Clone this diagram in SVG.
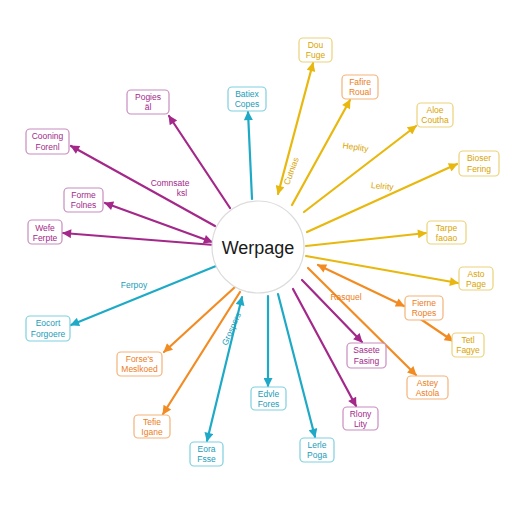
<svg xmlns="http://www.w3.org/2000/svg" width="512" height="512" viewBox="0 0 512 512">
<style>
.bg{fill:#fff}
.e{fill:none;stroke-width:2.2;stroke-linecap:round}
.m{stroke:#a3288a}.c{stroke:#1eaac6}.y{stroke:#e8b80e}.o{stroke:#f28c22}
.box{fill:#fff;stroke-width:1.2}
.bm{stroke:#c98cc0}.bc{stroke:#7fd0e0}.by{stroke:#ecd27a}.bo{stroke:#f4b27a}
text{font-family:"Liberation Sans","DejaVu Sans",sans-serif;text-anchor:middle}
.t{font-size:8.5px}
.tm{fill:#a3288a}.tc{fill:#1a9cb8}.ty{fill:#d9a400}.to{fill:#ec7d1a}
.lbl{font-size:8.5px}
</style>
<defs>
<marker id="am" viewBox="0 0 10 10" refX="9" refY="5" markerWidth="10" markerHeight="9" markerUnits="userSpaceOnUse" orient="auto-start-reverse"><path d="M0,0 L10,5 L0,10 z" fill="#a3288a"/></marker>
<marker id="ac" viewBox="0 0 10 10" refX="9" refY="5" markerWidth="10" markerHeight="9" markerUnits="userSpaceOnUse" orient="auto-start-reverse"><path d="M0,0 L10,5 L0,10 z" fill="#1eaac6"/></marker>
<marker id="ay" viewBox="0 0 10 10" refX="9" refY="5" markerWidth="10" markerHeight="9" markerUnits="userSpaceOnUse" orient="auto-start-reverse"><path d="M0,0 L10,5 L0,10 z" fill="#e8b80e"/></marker>
<marker id="ao" viewBox="0 0 10 10" refX="9" refY="5" markerWidth="10" markerHeight="9" markerUnits="userSpaceOnUse" orient="auto-start-reverse"><path d="M0,0 L10,5 L0,10 z" fill="#f28c22"/></marker>
</defs>
<rect class="bg" width="512" height="512"/>
<g id="connectors">
<line class="e m" x1="230" y1="208" x2="169" y2="116" marker-end="url(#am)"/>
<line class="e m" x1="215" y1="226" x2="71" y2="146" marker-end="url(#am)"/>
<line class="e m" x1="212" y1="242" x2="105" y2="203" marker-start="url(#am)" marker-end="url(#am)"/>
<line class="e m" x1="214" y1="245" x2="63" y2="233" marker-end="url(#am)"/>
<line class="e c" x1="252" y1="199" x2="248" y2="112" marker-end="url(#ac)"/>
<line class="e c" x1="216" y1="266" x2="71" y2="325" marker-end="url(#ac)"/>
<line class="e c" x1="242" y1="297" x2="207" y2="441" marker-start="url(#ac)" marker-end="url(#ac)"/>
<line class="e c" x1="268" y1="296" x2="268" y2="386" marker-end="url(#ac)"/>
<line class="e c" x1="278" y1="294" x2="315" y2="437" marker-end="url(#ac)"/>
<line class="e y" x1="278" y1="194" x2="313" y2="63" marker-start="url(#ay)" marker-end="url(#ay)"/>
<line class="e y" x1="292" y1="205" x2="350" y2="100" marker-end="url(#ay)"/>
<line class="e y" x1="304" y1="212" x2="416" y2="126" marker-end="url(#ay)"/>
<line class="e y" x1="307" y1="232" x2="457" y2="164" marker-end="url(#ay)"/>
<line class="e y" x1="306" y1="246" x2="426" y2="233" marker-end="url(#ay)"/>
<line class="e y" x1="306" y1="256" x2="458" y2="283" marker-end="url(#ay)"/>
<line class="e o" x1="318" y1="265" x2="404" y2="306" marker-start="url(#ao)" marker-end="url(#ao)"/>
<line class="e o" x1="419" y1="318" x2="453" y2="341" marker-end="url(#ao)"/>
<line class="e o" x1="308" y1="268" x2="416" y2="375" marker-end="url(#ao)"/>
<line class="e m" x1="302" y1="280" x2="362" y2="342" marker-end="url(#am)"/>
<line class="e m" x1="293" y1="289" x2="356" y2="406" marker-end="url(#am)"/>
<line class="e o" x1="235" y1="287" x2="164" y2="352" marker-end="url(#ao)"/>
<line class="e o" x1="240" y1="292" x2="163" y2="414" marker-end="url(#ao)"/>
<text class="lbl tm" x="170" y="186">Comnsate</text>
<text class="lbl tm" x="182" y="196">ksl</text>
<text class="lbl tc" x="134" y="288">Ferpoy</text>
<text class="lbl ty" x="355" y="150" transform="rotate(8 355 150)">Heplity</text>
<text class="lbl ty" x="382" y="189" transform="rotate(5 382 189)">Lelrity</text>
<text class="lbl ty" x="294" y="172" font-size="7" transform="rotate(-70 294 172)">Cutnias</text>
<text class="lbl to" x="346" y="300">Rasquel</text>
<text class="lbl tc" x="234" y="330" font-size="7" transform="rotate(-66 234 330)">Grospers</text>
</g>
<g id="center">
<circle cx="258" cy="247" r="46" fill="#fff" stroke="#dcdcdc" stroke-width="1.2"/>
<text x="258" y="254" font-size="18" fill="#1a1a1a">Werpage</text>
</g>
<g id="n1"><rect class="box bm" x="127" y="90" width="42" height="24" rx="4"/><text class="t tm" x="148" y="100">Pogies</text><text class="t tm" x="148" y="110">äl</text></g>
<g id="n2"><rect class="box bm" x="26" y="129" width="43" height="25" rx="4"/><text class="t tm" x="47.5" y="139">Cooning</text><text class="t tm" x="47.5" y="150">Forenl</text></g>
<g id="n3"><rect class="box bc" x="228" y="87" width="38" height="24" rx="4"/><text class="t tc" x="247" y="97">Batiex</text><text class="t tc" x="247" y="107">Copes</text></g>
<g id="n4"><rect class="box by" x="299" y="38" width="33" height="24" rx="4"/><text class="t ty" x="315.5" y="48">Dou</text><text class="t ty" x="315.5" y="58">Fuge</text></g>
<g id="n5"><rect class="box bo" x="342" y="75" width="36" height="24" rx="4"/><text class="t to" x="360" y="85">Fafire</text><text class="t to" x="360" y="95">Roual</text></g>
<g id="n6"><rect class="box by" x="417" y="103" width="36" height="24" rx="4"/><text class="t ty" x="435" y="113">Aloe</text><text class="t ty" x="435" y="123">Coutha</text></g>
<g id="n7"><rect class="box by" x="459" y="151" width="40" height="25" rx="4"/><text class="t ty" x="479" y="161">Bioser</text><text class="t ty" x="479" y="172">Fering</text></g>
<g id="n8"><rect class="box by" x="427" y="221" width="39" height="23" rx="4"/><text class="t ty" x="446.5" y="231">Tarpe</text><text class="t ty" x="446.5" y="241">faoao</text></g>
<g id="n9"><rect class="box by" x="459" y="267" width="34" height="23" rx="4"/><text class="t ty" x="476" y="277">Asto</text><text class="t ty" x="476" y="287">Page</text></g>
<g id="n10"><rect class="box bm" x="64" y="188" width="39" height="24" rx="4"/><text class="t tm" x="83.5" y="198">Forme</text><text class="t tm" x="83.5" y="208">Folnes</text></g>
<g id="n11"><rect class="box bm" x="28" y="220" width="34" height="24" rx="4"/><text class="t tm" x="45" y="231">Wefe</text><text class="t tm" x="45" y="241">Ferpte</text></g>
<g id="n12"><rect class="box bc" x="26" y="316" width="44" height="25" rx="4"/><text class="t tc" x="48" y="326">Eocort</text><text class="t tc" x="48" y="337">Forgoere</text></g>
<g id="n13"><rect class="box bo" x="117" y="352" width="45" height="24" rx="4"/><text class="t to" x="139.5" y="362">Forse's</text><text class="t to" x="139.5" y="372">Meslkoed</text></g>
<g id="n14"><rect class="box bo" x="134" y="415" width="36" height="23" rx="4"/><text class="t to" x="152" y="425">Tefie</text><text class="t to" x="152" y="435">Igane</text></g>
<g id="n15"><rect class="box bc" x="190" y="442" width="33" height="24" rx="4"/><text class="t tc" x="206.5" y="452">Eora</text><text class="t tc" x="206.5" y="462">Fsse</text></g>
<g id="n16"><rect class="box bc" x="251" y="387" width="35" height="23" rx="4"/><text class="t tc" x="268.5" y="397">Edvle</text><text class="t tc" x="268.5" y="407">Fores</text></g>
<g id="n17"><rect class="box bc" x="300" y="438" width="34" height="24" rx="4"/><text class="t tc" x="317" y="448">Lerle</text><text class="t tc" x="317" y="458">Poga</text></g>
<g id="n18"><rect class="box bo" x="405" y="296" width="38" height="24" rx="4"/><text class="t to" x="424" y="306">Fierne</text><text class="t to" x="424" y="316">Ropes</text></g>
<g id="n19"><rect class="box by" x="452" y="333" width="32" height="24" rx="4"/><text class="t ty" x="468" y="343">Tetl</text><text class="t ty" x="468" y="353">Fagye</text></g>
<g id="n20"><rect class="box bm" x="347" y="343" width="39" height="25" rx="4"/><text class="t tm" x="366.5" y="353">Sasete</text><text class="t tm" x="366.5" y="364">Fasing</text></g>
<g id="n21"><rect class="box bo" x="407" y="376" width="41" height="23" rx="4"/><text class="t to" x="427.5" y="386">Astey</text><text class="t to" x="427.5" y="396">Astola</text></g>
<g id="n22"><rect class="box bm" x="343" y="407" width="35" height="23" rx="4"/><text class="t tm" x="360.5" y="417">Rlony</text><text class="t tm" x="360.5" y="427">Lity</text></g>
</svg>
